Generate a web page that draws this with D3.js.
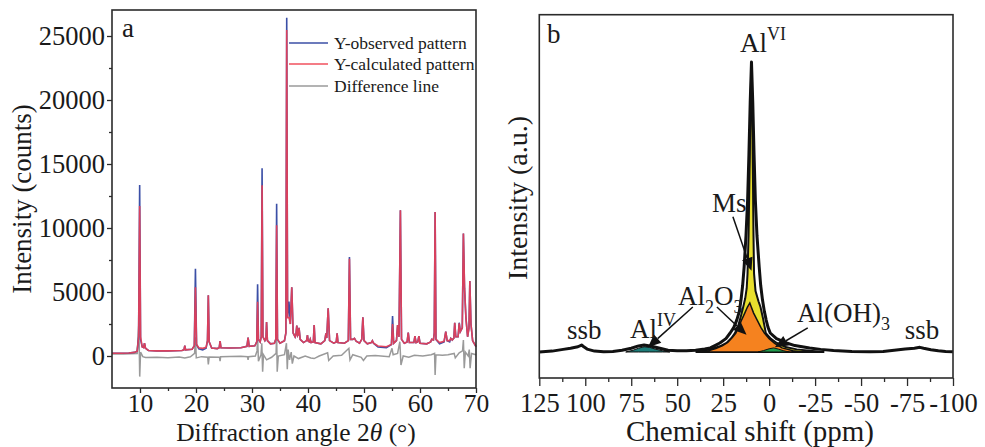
<!DOCTYPE html>
<html>
<head>
<meta charset="utf-8">
<script src="https://cdn.jsdelivr.net/npm/d3@7"></script>
<style>
  body { margin: 0; background: #fff; }
  svg text { font-family: "Liberation Serif", "Times New Roman", serif; fill: #1a1a1a; }
</style>
</head>
<body>
<svg id="chart" width="985" height="447"></svg>
<script>
// ---------- panel a : XRD refinement ----------
var twoTheta = [5.0,6.5,8.0,9.0,9.5,9.75,9.94,10.1,10.4,10.65,10.8,11.0,11.5,13,15,17.5,17.85,18.0,18.15,19.3,19.7,19.9,20.1,20.5,21.2,21.8,22.05,22.2,22.35,22.8,23.8,24.15,24.3,24.45,26,28,29.1,29.3,29.5,30.5,30.85,31.0,31.15,31.45,31.65,31.8,31.95,32.3,32.5,32.6,32.75,33.3,34.0,34.25,34.4,34.55,35.0,35.8,36.05,36.2,36.35,36.6,36.85,37.1,37.35,37.7,37.85,38.0,38.15,38.3,38.4,38.6,39.2,39.75,39.9,40.05,40.25,40.4,40.55,40.95,41.1,41.25,42.3,43.0,43.2,43.35,43.6,43.85,44.6,45.05,45.2,45.35,46.5,47.2,47.4,47.6,48.0,48.3,48.6,49.2,49.6,49.8,50.0,50.6,51.3,51.5,51.7,52.5,54.0,54.9,55.1,55.3,55.8,56.0,56.25,56.5,56.7,57.2,57.7,57.9,58.1,58.9,59.1,59.3,59.6,59.8,60.0,61.2,61.9,62.1,62.4,62.55,62.7,62.85,63.5,64.3,64.6,64.85,65.3,65.5,65.75,66.05,66.2,66.4,66.8,67.0,67.2,67.55,67.75,67.95,68.2,68.5,68.75,68.9,69.1,69.4,70.0];
var calcCounts = [210,220,240,280,380,1500,11719,1500,700,650,1000,600,430,400,400,430,480,800,480,520,800,5365,900,650,600,680,1200,4740,1100,620,580,650,1170,650,620,650,750,1430,760,800,1100,4245,1300,1100,1500,13330,1500,1200,1400,2660,1200,950,1000,1300,10210,1300,1000,1200,1800,25470,3000,3000,2500,5365,1800,1500,1700,2370,1600,1700,2210,1300,1050,1200,1640,1150,1100,1300,1050,1100,2420,1050,950,1200,1770,1400,3720,1200,1000,1100,1770,1050,1000,1200,7600,1300,1300,1380,1150,1000,1300,3020,1200,950,1050,1200,1000,780,720,900,2500,1000,1200,2420,1500,11380,1300,1000,1100,1820,1050,1050,1560,1050,1100,1560,1000,950,1100,1300,1250,1800,11250,1300,1050,1150,1900,1200,1200,1380,1250,1400,2600,1500,1500,2550,1900,2200,9560,5400,3000,1500,2200,5860,2500,1200,730];
var obsCounts = [210,220,240,280,380,1500,13359,1300,700,650,1000,600,430,400,400,430,480,800,480,520,800,6820,900,560,480,600,1200,4740,1100,620,580,650,1170,650,620,650,750,1430,760,800,1100,5600,1300,1100,1500,14660,1500,1200,1400,2660,1200,950,1000,1300,11900,1300,1000,1200,1800,26430,3000,4245,2500,5365,1800,1500,1700,2370,1600,1700,2210,1300,1050,1200,1640,1150,1100,1300,1050,1100,2420,1050,950,1200,1770,1400,3720,1200,1000,1100,1770,1050,1000,1200,7730,1300,1300,1380,1150,1000,1300,3020,1200,950,1050,1200,1000,700,650,900,3125,1000,1200,2420,1500,11380,1300,1000,1100,1820,1050,1050,1560,1050,1100,1560,1000,950,1100,1300,1250,1800,11250,1300,950,1100,1900,1200,1100,1380,1250,1400,2600,1500,1500,2600,1900,2200,9560,5300,3000,1500,2200,5860,2500,1200,730];
var diffTheta = [5.0,7,9.5,9.8,9.95,10.1,10.5,11,13,15,17,18,19,19.75,19.9,20.05,21,22.1,22.2,22.35,24.2,24.3,24.4,26,28,29.2,29.3,29.4,30.6,30.9,31.0,31.15,31.6,31.75,31.9,32.05,32.6,33.5,34.3,34.4,34.5,34.7,35.8,36.15,36.3,36.45,36.7,37.0,37.2,37.5,38.3,39.5,40.5,41.1,42,43.5,43.7,44.5,46,47.3,47.5,48,49.5,49.9,50.5,52,54.5,55.0,55.2,56.0,56.4,56.6,57,58,59,60.5,62,62.6,62.7,62.85,64,65,66.1,66.3,67.0,67.6,67.75,67.9,68.1,68.6,68.8,68.95,69.2,70];
var diffCounts = [150,160,200,2550,-1610,300,-50,-120,-100,-130,-80,-150,-60,200,1460,-150,-50,-100,-650,-80,-100,-400,-60,-40,-20,-60,-300,-50,0,400,1500,-400,100,1000,-1220,100,-300,-100,200,1770,-1220,0,100,1000,-1040,500,-300,300,-600,0,-200,0,-150,-200,0,250,-350,0,50,600,-310,100,-100,-350,0,30,-50,600,100,200,1120,-700,0,-100,50,0,100,200,-1480,100,50,100,200,-150,250,400,1250,-960,300,0,500,-960,200,100];
var xTicksA = [10,20,30,40,50,60,70];
var xMinorA = [15,25,35,45,55,65];
var yTicksA = [0,5000,10000,15000,20000,25000];
var yMinorA = [2500,7500,12500,17500,22500];
var legendNames = ["Y-observed pattern","Y-calculated pattern","Difference line"];
var legendColors = ["#3b4fa6","#f0505e","#9a9a9a"];

// ---------- panel b : 27Al NMR deconvolution ----------
var expPts = [[125,0],[118,0.3],[112,0.9],[108,1.3],[104,1.8],[102,2.4],[101,1.9],[99,1.0],[95,0.3],[90,0.1],[85,0.2],[80,0.6],[75,1.3],[71,2.1],[68,2.4],[64,2.0],[60,1.4],[55,0.6],[50,0.4],[45,0.4],[40,0.6],[35,1.0],[32,1.4],[29.5,2.2],[26.8,3.1],[23.5,4.6],[21.2,6.55],[19.2,8.5],[17.6,11],[16.2,14],[15.3,17.9],[14.4,23],[13.6,29.3],[12.6,40],[11.7,52.4],[11.0,68],[10.3,86],[9.6,100],[8.9,86],[8.2,68],[7.5,52.4],[6.6,40],[5.4,29.3],[4.6,23],[3.6,17.9],[2.6,14],[1.6,11],[0.6,8.5],[-0.6,6.55],[-4,4.6],[-9.5,3.1],[-14,2.2],[-22,1.4],[-28,0.9],[-35,0.5],[-45,0.2],[-55,0.1],[-62,0.2],[-68,0.6],[-74,1.0],[-79,1.3],[-82,1.6],[-84,1.3],[-88,0.8],[-92,0.4],[-96,0.2],[-100,0.1]];
var fitPts = [[40,0],[35,0.5],[30,1.3],[26,2.2],[23.2,3.1],[20.5,4.8],[18.6,6.5],[16.8,9],[15.3,12.5],[14.1,15.5],[13.0,18.5],[12.2,22],[11.75,27],[11.2,40],[10.7,60],[10.2,82],[9.7,99],[9.2,82],[8.8,60],[8.5,40],[8.2,27],[7.4,21],[5.8,17.5],[4.7,15.5],[3.3,11.5],[1.8,6.5],[-1,4.5],[-4.2,3.1],[-9,1.7],[-15,0.9],[-22,0.4],[-30,0]];
var al2o3Pts = [[37,0],[33,0.4],[29,1.2],[25.5,2.1],[22.5,3.3],[20,5.0],[18.1,6.55],[16.3,9],[15,11],[13.2,13.5],[11.8,15.5],[10.5,16.9],[9.7,15.5],[8.5,13.5],[6.5,11],[4.5,8.5],[2.6,6.55],[0,4.6],[-3,3.0],[-7,1.4],[-13,0.4],[-18,0]];
var alIVPts = [[78,0],[74,0.6],[71,1.3],[68,1.8],[65,1.6],[62,1.0],[58,0.4],[54,0]];
var alOH3Pts = [[6,0],[3,0.5],[0,1.1],[-2.5,1.4],[-5,1.0],[-8,0.4],[-11,0]];
var xTicksB = [125,100,75,50,25,0,-25,-50,-75,-100];
var xMinorB = [112.5,87.5,62.5,37.5,12.5,-12.5,-37.5,-62.5,-87.5];
// arrows [fromPpm, fromI, toPpm, toI]
var arrowsB = [[19.7,46.6,9.6,28.0],[41.5,15.5,65.9,1.6],[28.4,15.5,12.3,5.9],[-21,8.3,-3.1,1.6]];

var svg = d3.select("#chart");

// scales
var xA = d3.scaleLinear().domain([5,70]).range([112,476]);
var yA = d3.scaleLinear().domain([-2500,27031]).range([388,10]);
var xB = d3.scaleLinear().domain([125,-100]).range([539.3,953]);
var yB = d3.scaleLinear().domain([-8.97,116.3]).range([378,14.7]);

function styleAxis(g, size) {
  g.select(".domain").remove();
  g.selectAll("line").attr("stroke","#2b2b2b").attr("stroke-width",1.3);
  g.selectAll("text").attr("font-size",size || 26.5).attr("fill","#1a1a1a")
    .style("font-family","'Liberation Serif','Times New Roman',serif");
}

// ===== panel a =====
var ga = svg.append("g");
ga.append("g").attr("transform","translate(0,388)")
  .call(d3.axisBottom(xA).tickValues(xTicksA).tickSize(5).tickPadding(1).tickSizeOuter(0))
  .call(styleAxis, 25.5);
ga.append("g").attr("transform","translate(0,388)")
  .call(d3.axisBottom(xA).tickValues(xMinorA).tickSize(3).tickFormat("").tickSizeOuter(0))
  .call(styleAxis);
ga.append("g").attr("transform","translate(112,0)")
  .call(d3.axisLeft(yA).tickValues(yTicksA).tickSize(5).tickPadding(2).tickFormat(d3.format("d")).tickSizeOuter(0))
  .call(styleAxis);
ga.append("g").attr("transform","translate(112,0)")
  .call(d3.axisLeft(yA).tickValues(yMinorA).tickSize(3).tickFormat("").tickSizeOuter(0))
  .call(styleAxis);

var lineA = d3.line().x(function(d){return xA(d[0]);}).y(function(d){return yA(d[1]);});
ga.append("path").attr("d", lineA(d3.zip(diffTheta, diffCounts)))
  .attr("fill","none").attr("stroke",legendColors[2]).attr("stroke-width",1.5);
ga.append("path").attr("d", lineA(d3.zip(twoTheta, obsCounts)))
  .attr("fill","none").attr("stroke",legendColors[0]).attr("stroke-width",1.6);
ga.append("path").attr("d", lineA(d3.zip(twoTheta, calcCounts)))
  .attr("fill","none").attr("stroke","#e23f58").attr("stroke-width",1.6).attr("stroke-opacity",0.95);

ga.append("rect").attr("x",112).attr("y",10).attr("width",364).attr("height",378)
  .attr("fill","none").attr("stroke","#2b2b2b").attr("stroke-width",1.6);

var leg = ga.selectAll(".leg").data(legendNames).enter().append("g")
  .attr("transform", function(d,i){ return "translate(289," + [43,64,86][i] + ")"; });
leg.append("line").attr("x1",0).attr("x2",39).attr("y1",0).attr("y2",0)
  .attr("stroke", function(d,i){ return legendColors[i]; }).attr("stroke-width",1.6);
leg.append("text").attr("x",45).attr("dy","0.35em").attr("font-size",17.5).text(function(d){return d;});

ga.append("text").attr("x",122).attr("y",37).attr("font-size",27).text("a");

var xtA = ga.append("text").attr("x",296).attr("y",441).attr("text-anchor","middle").attr("font-size",25.5);
xtA.append("tspan").text("Diffraction angle 2");
xtA.append("tspan").attr("font-style","italic").text("θ");
xtA.append("tspan").text(" (°)");
ga.append("text").attr("transform","translate(31,199) rotate(-90)")
  .attr("text-anchor","middle").attr("font-size",27).text("Intensity (counts)");

// ===== panel b =====
var gb = svg.append("g");
gb.append("g").attr("transform","translate(0,378)")
  .call(d3.axisBottom(xB).tickValues(xTicksB).tickSize(8).tickPadding(7).tickFormat(function(d){return String(d);}).tickSizeOuter(0))
  .call(styleAxis);
gb.append("g").attr("transform","translate(0,378)")
  .call(d3.axisBottom(xB).tickValues(xMinorB).tickSize(4).tickFormat("").tickSizeOuter(0))
  .call(styleAxis);

var areaB = d3.area().x(function(d){return xB(d[0]);}).y0(yB(0)).y1(function(d){return yB(d[1]);});
var lineB = d3.line().x(function(d){return xB(d[0]);}).y(function(d){return yB(d[1]);});

gb.append("path").attr("d", areaB(fitPts)).attr("fill","#e8df2e").attr("stroke","#111").attr("stroke-width",2);
gb.append("path").attr("d", areaB(al2o3Pts)).attr("fill","#f5821f").attr("stroke","#111").attr("stroke-width",1.5);
gb.append("path").attr("d", areaB(alIVPts)).attr("fill","#1c7b78").attr("stroke","#111").attr("stroke-width",1);
gb.append("path").attr("d", areaB(alOH3Pts)).attr("fill","#1f9a4c").attr("stroke","#111").attr("stroke-width",1);
gb.append("path").attr("d", lineB(expPts)).attr("fill","none").attr("stroke","#111").attr("stroke-width",3)
  .attr("stroke-linejoin","round");

gb.append("rect").attr("x",539.3).attr("y",14.7).attr("width",413.7).attr("height",363.3)
  .attr("fill","none").attr("stroke","#2b2b2b").attr("stroke-width",1.6);

// arrows
arrowsB.forEach(function(a){
  var x1 = xB(a[0]), y1 = yB(a[1]), x2 = xB(a[2]), y2 = yB(a[3]);
  var ang = Math.atan2(y2-y1, x2-x1), L = 13, W = 5.5;
  var bx = x2 - L*Math.cos(ang), by = y2 - L*Math.sin(ang);
  gb.append("line").attr("x1",x1).attr("y1",y1).attr("x2",bx).attr("y2",by)
    .attr("stroke","#111").attr("stroke-width",1.5);
  var pts = [[x2,y2],[bx + W*Math.sin(ang), by - W*Math.cos(ang)],[bx - W*Math.sin(ang), by + W*Math.cos(ang)]];
  gb.append("polygon").attr("points", pts.map(function(p){return p.join(",");}).join(" ")).attr("fill","#111");
});

function label(ppm, inten, parts) {
  var t = gb.append("text").attr("x", xB(ppm)).attr("y", yB(inten)).attr("font-size",27);
  var shift = 0;
  parts.forEach(function(p){
    var dy = p[1] - shift; shift = p[1];
    t.append("tspan").attr("dy", dy).attr("font-size", p[1] === 0 ? 27 : 18).text(p[0]);
  });
}
label(15.9, 103.4, [["Al",0],["VI",-12]]);
label(31.1, 48.3, [["Ms",0]]);
label(49.6, 16.2, [["Al",0],["2",8],["O",0],["3",8]]);
label(75.7, 4.8, [["Al",0],["IV",-12]]);
label(-15.1, 10.3, [["Al(OH)",0],["3",8]]);
label(109.9, 4.5, [["ssb",0]]);
label(-73.7, 4.5, [["ssb",0]]);

gb.append("text").attr("x",547).attr("y",43).attr("font-size",27).text("b");
gb.append("text").attr("x",750).attr("y",441).attr("text-anchor","middle").attr("font-size",29).text("Chemical shift (ppm)");
gb.append("text").attr("transform","translate(527,198) rotate(-90)")
  .attr("text-anchor","middle").attr("font-size",28).text("Intensity (a.u.)");
</script>
</body>
</html>
